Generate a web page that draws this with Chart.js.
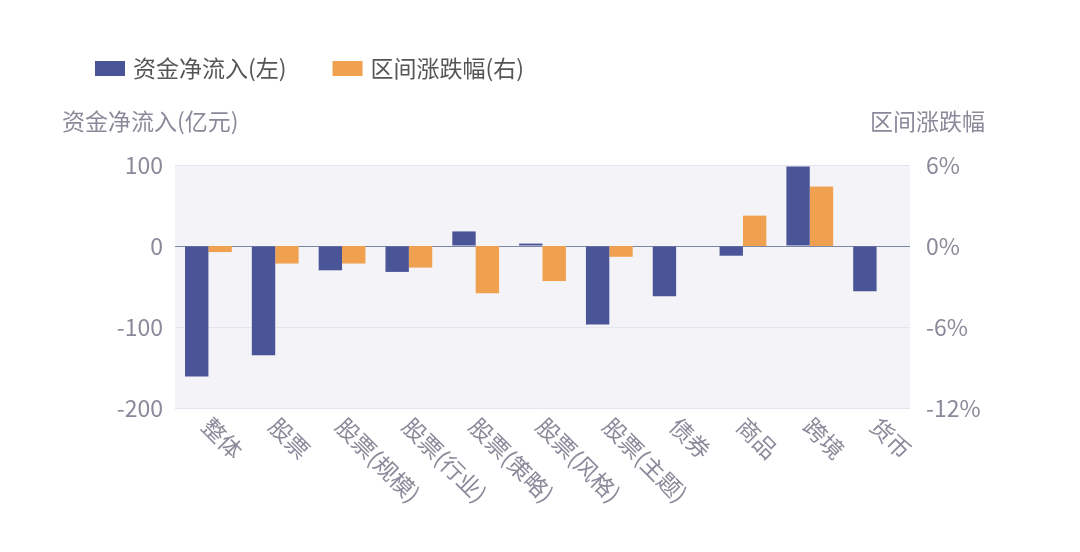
<!DOCTYPE html>
<html><head><meta charset="utf-8">
<script src="https://cdn.jsdelivr.net/npm/chart.js@4"></script>
<style>body{margin:0;background:#fff}#wrap{width:1080px;height:552px}</style>
</head><body><div id="wrap"><canvas id="c"></canvas></div>
<script>
"use strict";
var categories = ["整体", "股票", "股票(规模)", "股票(行业)", "股票(策略)", "股票(风格)", "股票(主题)", "债券", "商品", "跨境", "货币"];
var netFlow = [-161, -135, -30, -32, 18, 3, -97, -62, -12, 98, -56];
var changePct = [-0.45, -1.3, -1.3, -1.6, -3.5, -2.6, -0.8, 0, 2.25, 4.4, 0];
var leftTicks = [-200, -100, 0, 100];
var rightTicks = [-12, -6, 0, 6];
var FONT = '"Noto Sans CJK SC", "Noto Sans", sans-serif';
var GRAY = "#8a8a9a";

var deco = {
    id: "deco",
    beforeDraw: function (chart) {
        var a = chart.chartArea, ctx = chart.ctx;
        ctx.save();
        ctx.fillStyle = "#f4f4f8";
        ctx.fillRect(a.left, a.top, a.right - a.left, a.bottom - a.top);
        ctx.restore();
    },
    afterDraw: function (chart) {
        var ctx = chart.ctx, a = chart.chartArea, x = chart.scales.x;
        ctx.save();
        // legend
        ctx.font = "23px " + FONT;
        ctx.textBaseline = "middle";
        var lx = 95;
        chart.data.datasets.forEach(function (ds) {
            ctx.fillStyle = ds.backgroundColor;
            ctx.fillRect(lx, 61, 30, 15);
            ctx.fillStyle = "#555";
            ctx.fillText(ds.label, lx + 38, 68);
            lx += 38 + ctx.measureText(ds.label).width + 46;
        });
        // axis titles
        ctx.fillStyle = GRAY;
        ctx.textAlign = "left";
        ctx.fillText("资金净流入(亿元)", 62, 121);
        ctx.textAlign = "right";
        ctx.fillText("区间涨跌幅", 985, 121);
        // x labels
        ctx.textAlign = "left";
        ctx.textBaseline = "top";
        categories.forEach(function (c, i) {
            var px = x.getPixelForTick(i);
            ctx.save();
            ctx.translate(px + 6, a.bottom + 6);
            ctx.rotate(Math.PI / 4);
            ctx.fillText(c, 0, 0);
            ctx.restore();
        });
        ctx.restore();
    }
};

new Chart(document.getElementById("c"), {
    type: "bar",
    data: {
        labels: categories,
        datasets: [
            {label: "资金净流入(左)", data: netFlow, backgroundColor: "#4a5598", yAxisID: "y"},
            {label: "区间涨跌幅(右)", data: changePct, backgroundColor: "#f0a14f", yAxisID: "y1"}
        ]
    },
    options: {
        responsive: true,
        maintainAspectRatio: false,
        animation: false,
        layout: {padding: {top: 165, bottom: 136, left: 0, right: 0}},
        datasets: {bar: {categoryPercentage: 0.7, barPercentage: 1}},
        plugins: {legend: {display: false}, tooltip: {enabled: false}},
        scales: {
            x: {
                ticks: {display: false},
                grid: {display: false},
                border: {display: false}
            },
            y: {
                position: "left",
                min: -200, max: 100,
                afterBuildTicks: function (s) { s.ticks = leftTicks.map(function (v) { return {value: v}; }); },
                afterFit: function (s) { s.width = 175; },
                ticks: {color: GRAY, font: {size: 23, family: FONT}, padding: 12},
                grid: {
                    color: function (c) { return c.tick && c.tick.value === 0 ? "#7d87a8" : "#e4e4ef"; },
                    drawTicks: false
                },
                border: {display: false}
            },
            y1: {
                position: "right",
                min: -12, max: 6,
                afterBuildTicks: function (s) { s.ticks = rightTicks.map(function (v) { return {value: v}; }); },
                afterFit: function (s) { s.width = 170; },
                ticks: {color: GRAY, font: {size: 23, family: FONT}, padding: 16,
                    callback: function (v) { return v + "%"; }},
                grid: {display: false, drawTicks: false},
                border: {display: false}
            }
        }
    },
    plugins: [deco]
});
</script>
</body></html>
